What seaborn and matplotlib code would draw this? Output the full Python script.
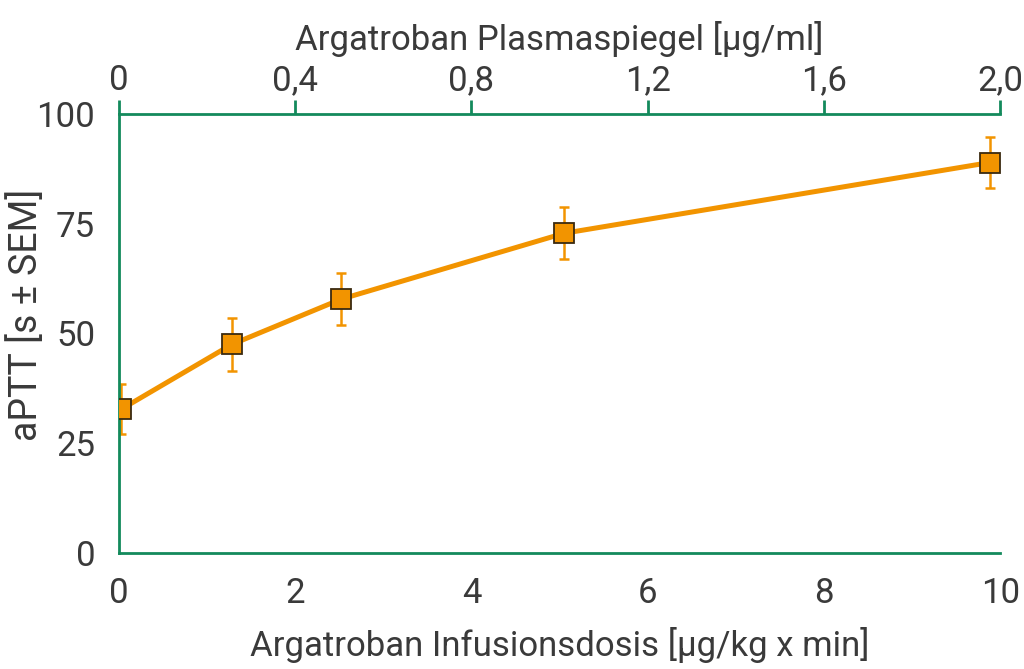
import matplotlib
matplotlib.use("Agg")
import matplotlib.pyplot as plt
import seaborn as sns
import pandas as pd

sns.set_style("white")
plt.rcParams['font.family'] = ['Roboto', 'DejaVu Sans']

# values
dose = [0.03, 1.28, 2.52, 5.05, 9.88]
aptt = [32.8, 47.5, 57.8, 72.8, 88.9]
sem = [5.7, 6.0, 5.9, 5.9, 5.8]
top_ticks = [0, 0.4, 0.8, 1.2, 1.6, 2.0]
top_labels = ['0', '0,4', '0,8', '1,2', '1,6', '2,0']
y_ticks = [0, 25, 50, 75, 100]
x_ticks = [0, 2, 4, 6, 8, 10]

green = '#138a5c'
orange = '#f29400'
text_col = '#3a3a3a'

df = pd.DataFrame({'dose': dose, 'aptt': aptt})

fig = plt.figure(figsize=(10.24, 6.69), dpi=100)
ax = fig.add_axes([0.116, 0.173, 0.861, 0.657])

ax.errorbar(dose, aptt, yerr=sem, fmt='none', ecolor=orange, elinewidth=1.8,
            capsize=3.5, capthick=1.8, zorder=2)
sns.lineplot(data=df, x='dose', y='aptt', ax=ax, color=orange, linewidth=3.6,
             marker='s', markersize=14, markerfacecolor=orange,
             markeredgecolor='#3a2a10', markeredgewidth=1.3, zorder=3)

ax.set_xlim(0, 10)
ax.set_ylim(0, 100)
ax.set_xticks(x_ticks)
ax.set_yticks(y_ticks)

for side in ['top', 'bottom', 'left']:
    ax.spines[side].set_color(green)
    ax.spines[side].set_linewidth(2)
ax.spines['right'].set_visible(False)

ax.tick_params(axis='both', colors=green, width=2, length=10, direction='out',
               labelcolor=text_col, labelsize=25, pad=7)

ax.set_xlabel('Argatroban Infusionsdosis [µg/kg x min]', fontsize=25,
              color=text_col, labelpad=12)
ax.set_ylabel('aPTT [s ± SEM]', fontsize=27, color=text_col)
ax.yaxis.set_label_coords(-0.084, 0.542)

sec = ax.secondary_xaxis('top', functions=(lambda x: x / 5, lambda x: x * 5))
sec.set_xticks(top_ticks)
sec.set_xticklabels(top_labels)
sec.spines['top'].set_visible(False)
sec.tick_params(axis='x', colors=green, width=2, length=10, direction='out',
                labelcolor=text_col, labelsize=25, pad=2)
sec.set_xlabel('Argatroban Plasmaspiegel [µg/ml]', fontsize=25,
               color=text_col, labelpad=10)

fig.savefig('out.png', dpi=100)
